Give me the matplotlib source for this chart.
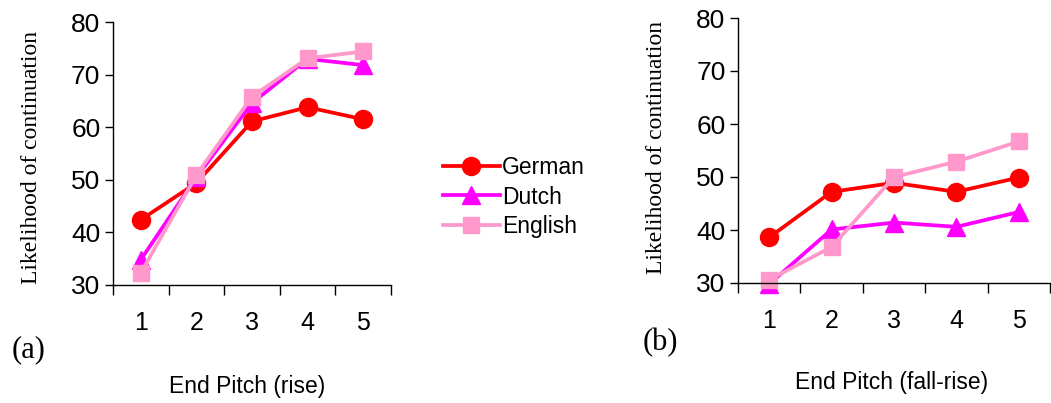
import matplotlib
matplotlib.use("Agg")
import matplotlib.pyplot as plt

# data
pitch = [1, 2, 3, 4, 5]
rise_german = [42.4, 49.4, 61.1, 63.8, 61.5]
rise_dutch = [34.8, 50.5, 64.6, 73.0, 71.8]
rise_english = [32.3, 50.9, 65.8, 73.1, 74.4]
fallrise_german = [38.6, 47.2, 48.9, 47.2, 49.9]
fallrise_dutch = [29.8, 40.1, 41.4, 40.6, 43.4]
fallrise_english = [30.6, 36.8, 50.0, 52.9, 56.7]
languages = ['German', 'Dutch', 'English']

colors = ['#FF0000', '#FF00FF', '#FF99CC']
markers = ['o', '^', 's']
msizes = [13, 13, 12]

W, H = 1051, 403
fig = plt.figure(figsize=(W / 100, H / 100), dpi=100)

sans = 'Liberation Sans'
serif = 'Liberation Serif'


def panel(box, series, xlabel, tag, tag_xy, xlabel_xy, ylabel_xy):
    ax = fig.add_axes(box)
    lines = []
    for vals, c, m, ms in zip(series, colors, markers, msizes):
        ln, = ax.plot(pitch, vals, color=c, marker=m, markersize=ms,
                      linewidth=2.7, markeredgecolor=c, clip_on=False)
        lines.append(ln)
    ax.set_xlim(0.5, 5.5)
    ax.set_ylim(30, 80)
    ax.set_yticks([30, 40, 50, 60, 70, 80])
    # category axis: ticks sit between categories
    ax.set_xticks([0.5, 1.5, 2.5, 3.5, 4.5, 5.5])
    ax.set_xticklabels([])
    ax.set_xticks(pitch, minor=True)
    ax.set_xticklabels([str(p) for p in pitch], minor=True)
    ax.tick_params(axis='x', which='major', length=7, width=1, direction='out')
    ax.tick_params(axis='x', which='minor', length=0, pad=19, labelsize=18)
    ax.tick_params(axis='y', length=6, width=1, direction='out', pad=3, labelsize=19)
    for lbl in ax.get_xticklabels(minor=True) + ax.get_yticklabels():
        lbl.set_fontfamily(sans)
    ax.spines['top'].set_visible(False)
    ax.spines['right'].set_visible(False)
    ax.spines['left'].set_linewidth(1)
    ax.spines['bottom'].set_linewidth(1)
    ax.patch.set_visible(False)
    fig.text(xlabel_xy[0] / W, 1 - xlabel_xy[1] / H, xlabel, ha='center', va='center',
             fontsize=16.5, family=sans)
    fig.text(tag_xy[0] / W, 1 - tag_xy[1] / H, tag, ha='center', va='center',
             fontsize=22, family=serif)
    fig.text(ylabel_xy[0] / W, 1 - ylabel_xy[1] / H, 'Likelihood of continuation',
             ha='center', va='center', rotation=90, fontsize=17, family=serif)
    return lines


lines = panel([113 / W, 1 - 285 / H, 278 / W, 263 / H],
              [rise_german, rise_dutch, rise_english],
              'End Pitch (rise)', '(a)', (29, 350), (247, 387), (32, 157))
panel([738 / W, 1 - 283 / H, 312 / W, 265 / H],
      [fallrise_german, fallrise_dutch, fallrise_english],
      'End Pitch (fall-rise)', '(b)', (660, 343), (892, 383), (656, 147))

fig.legend(lines, languages, loc='center left', bbox_to_anchor=(422 / W, 1 - 197 / H),
           frameon=False, prop={'family': sans, 'size': 16.5}, handlelength=2.5,
           handletextpad=0.1, labelspacing=0.3)

fig.savefig('out.png', dpi=100)
